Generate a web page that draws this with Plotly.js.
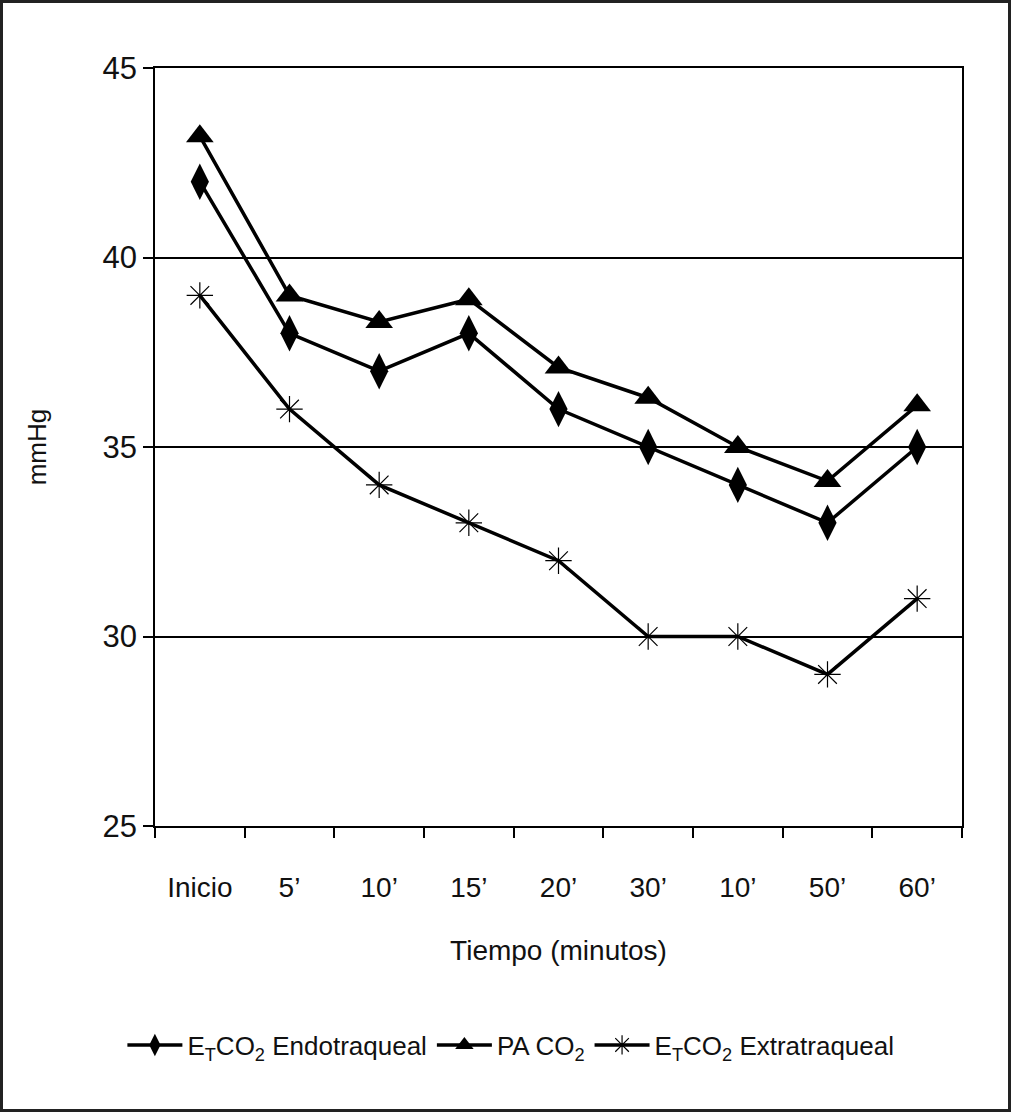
<!DOCTYPE html>
<html>
<head>
<meta charset="utf-8">
<script src="https://cdn.plot.ly/plotly-3.0.1.min.js"></script>
<style>
  html, body { margin: 0; padding: 0; background: #fff; }
  #chart {
    width: 1011px; height: 1112px;
    box-sizing: border-box;
    border: 3px solid #222;
  }
</style>
</head>
<body>
<div id="chart"></div>
<script>
// categories (note the repeated 10' label, as in the original)
var tiempo = ["Inicio", "5’", "10’", "15’", "20’", "30’", "10’", "50’", "60’"];

var etco2_endo = [42, 38, 37, 38, 36, 35, 34, 33, 35];
var paco2 = [43.2, 39.0, 38.3, 38.9, 37.1, 36.3, 35.0, 34.1, 36.1];
var etco2_extra = [39, 36, 34, 33, 32, 30, 30, 29, 31];

var yTicks = [25, 30, 35, 40, 45];

var cb_chart = function () {
  let xpos = tiempo.map(function (_, i) { return i; });

  let trace1 = {
    x: xpos,
    y: etco2_endo,
    name: "E<sub>T</sub>CO<sub>2</sub> Endotraqueal",
    mode: "lines+markers",
    line: { color: "#000", width: 3.5 },
    marker: { symbol: "diamond-tall", size: 26, color: "#000" },
    type: "scatter",
  };

  let trace2 = {
    x: xpos,
    y: paco2,
    name: "PA CO<sub>2</sub>",
    mode: "lines+markers",
    line: { color: "#000", width: 3.5 },
    marker: { symbol: "triangle-up", size: 24, color: "#000" },
    type: "scatter",
  };

  let trace3 = {
    x: xpos,
    y: etco2_extra,
    name: "E<sub>T</sub>CO<sub>2</sub> Extratraqueal",
    mode: "lines+markers",
    line: { color: "#000", width: 3.5 },
    marker: {
      symbol: "asterisk-open",
      size: 22,
      color: "#000",
      line: { color: "#000", width: 1.2 },
    },
    type: "scatter",
  };

  let data = [trace1, trace2, trace3];

  let layout = {
    width: 1005,
    height: 1106,
    margin: { l: 152, r: 46, t: 65, b: 283, pad: 0 },
    paper_bgcolor: "#fff",
    plot_bgcolor: "#fff",
    font: { family: "Liberation Sans, Arial, sans-serif", color: "#111" },

    showlegend: true,
    legend: {
      orientation: "h",
      x: 0.441,
      xanchor: "center",
      y: -0.289,
      yanchor: "middle",
      font: { size: 26 },
      itemwidth: 55,
      tracegroupgap: 0,
    },

    xaxis: {
      range: [-0.5, 8.5],
      tickmode: "array",
      tickvals: xpos,
      ticktext: tiempo,
      ticks: "",
      ticklabelstandoff: 36,
      tickfont: { size: 28 },
      showgrid: false,
      zeroline: false,
      showline: true,
      linecolor: "#000",
      linewidth: 1.5,
      mirror: true,
      minor: {
        tick0: -0.5,
        dtick: 1,
        ticks: "outside",
        ticklen: 10,
        tickwidth: 1.5,
        tickcolor: "#000",
        showgrid: false,
      },
      title: {
        text: "Tiempo (minutos)",
        font: { size: 28 },
        standoff: 38,
      },
    },
    yaxis: {
      range: [25, 45],
      tickmode: "array",
      tickvals: yTicks,
      ticks: "outside",
      ticklen: 10,
      tickwidth: 1.5,
      tickcolor: "#000",
      tickfont: { size: 31 },
      showgrid: true,
      gridcolor: "#000",
      gridwidth: 1.5,
      zeroline: false,
      showline: true,
      linecolor: "#000",
      linewidth: 1.5,
      mirror: true,
      title: {
        text: "mmHg",
        font: { size: 26 },
        standoff: 48,
      },
    },
  };
  // end layout

  let config = { displayModeBar: false, responsive: false };

  Plotly.newPlot("chart", data, layout, config);
};

if (document.readyState !== "loading") {
  cb_chart();
} else {
  document.addEventListener("DOMContentLoaded", cb_chart);
}
</script>
</body>
</html>
